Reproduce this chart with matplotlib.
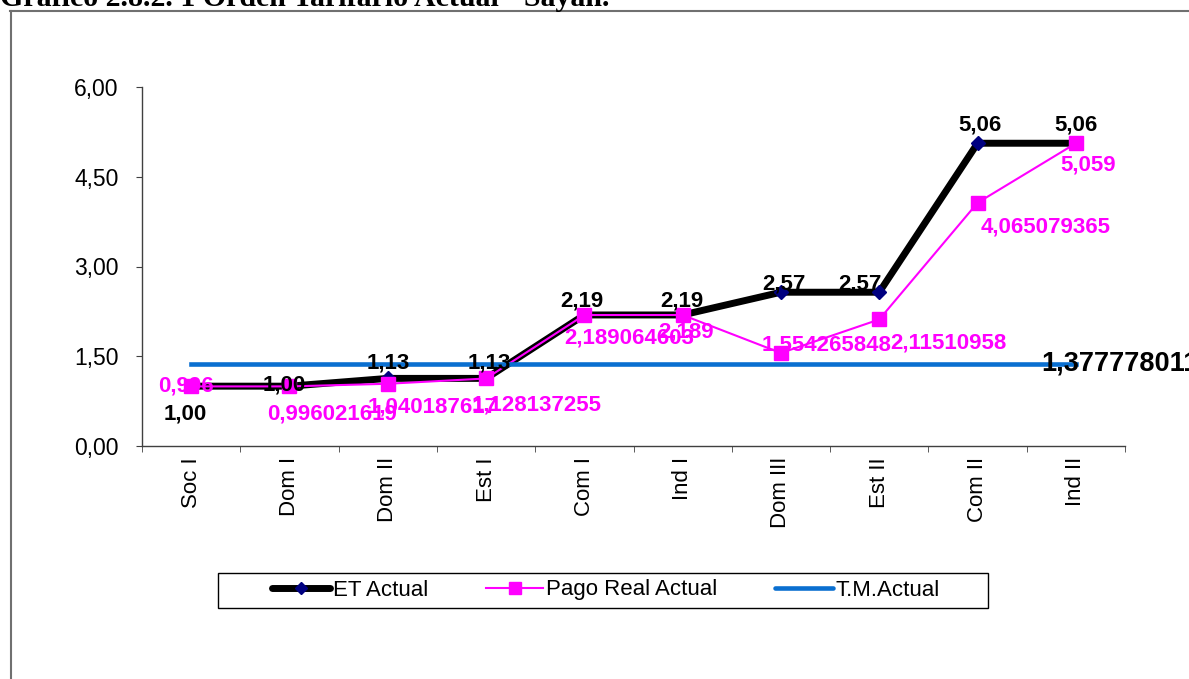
import matplotlib
matplotlib.use('Agg')
import matplotlib.pyplot as plt
from matplotlib.lines import Line2D
from matplotlib.patches import Rectangle
import numpy as np

plt.rcParams['font.family'] = ['Liberation Sans', 'DejaVu Sans']

# Datos del grafico
categorias = ["Soc I", "Dom I", "Dom II", "Est I", "Com I", "Ind I", "Dom III", "Est II", "Com II", "Ind II"]
et_actual = [1.00, 1.00, 1.13, 1.13, 2.19, 2.19, 2.57, 2.57, 5.06, 5.06]
pago_real = [0.996, 0.996021619, 1.040187617, 1.128137255, 2.189064603, 2.189,
             1.554265848, 2.11510958, 4.065079365, 5.059]
tm_actual = 1.377778011
yticks = [0, 1.5, 3, 4.5, 6]

# desplazamientos de las etiquetas (pixeles: dx, dy hacia abajo, alineacion)
off_et = [(-6, 28), (-5, -1), (0, -15), (3, -15), (-2, -14), (-1, -14),
          (3, -8), (-19, -8), (2, -18), (0, -18)]
off_pago = [(-5, 0, "center"), (-22, 28, "left"), (-20, 23, "left"), (-14, 27, "left"),
            (-20, 23, "left"), (3, 17, "center"), (-19, -8, "left"), (11, 24, "left"),
            (3, 24, "left"), (12, 22, "center")]

W, H = 1189, 679
fig = plt.figure(figsize=(W / 100, H / 100), dpi=100)
ax = fig.add_axes([142 / W, 1 - 446 / H, 983 / W, 359 / H])

x = np.arange(len(categorias))
azul = "#0A6FD0"
magenta = "#FF00FF"

ax.plot(x, et_actual, color="black", lw=5, marker="D", markersize=7.5,
        markerfacecolor="#000080", markeredgecolor="#000080", zorder=3)
ax.plot(x, pago_real, color=magenta, lw=1.5, marker="s", markersize=10,
        markerfacecolor=magenta, markeredgecolor=magenta, zorder=4)
ax.plot(x, [tm_actual] * len(x), color=azul, lw=3.3, zorder=5)

# etiquetas de datos
for xi, v, (dx, dy) in zip(x, et_actual, off_et):
    ax.annotate(f"{v:.2f}".replace(".", ","), (xi, v), xytext=(dx, -dy),
                textcoords="offset pixels", ha="center", va="center",
                fontsize=16, fontweight="bold", color="black", zorder=10)
for xi, v, (dx, dy, ha) in zip(x, pago_real, off_pago):
    ax.annotate(str(v).replace(".", ","), (xi, v), xytext=(dx, -dy),
                textcoords="offset pixels", ha=ha, va="center",
                fontsize=16, fontweight="bold", color=magenta, zorder=10)
ax.annotate(str(tm_actual).replace(".", ","), (x[-1], tm_actual), xytext=(-35, 0),
            textcoords="offset pixels", ha="left", va="center",
            fontsize=19.5, fontweight="bold", color="black", zorder=10,
            annotation_clip=False)

# ejes
ax.set_xlim(-0.5, len(x) - 0.5)
ax.set_ylim(0, 6)
ax.set_yticks(yticks)
ax.set_yticklabels([f"{t:.2f}".replace(".", ",") for t in yticks], fontsize=16.5)
ax.set_xticks(x)
ax.set_xticklabels(categorias, rotation=90, fontsize=16)
ax.set_xticks(np.arange(-0.5, len(x)), minor=True)
ax.tick_params(axis="x", which="major", length=0, pad=8)
ax.tick_params(axis="x", which="minor", length=4, direction="out", color="#404040")
ax.tick_params(axis="y", length=4, direction="out", pad=13, color="#404040")
for s in ["top", "right"]:
    ax.spines[s].set_visible(False)
for s in ["left", "bottom"]:
    ax.spines[s].set_color("#404040")
    ax.spines[s].set_linewidth(1)

# leyenda
handles = [
    Line2D([], [], color="black", lw=5, marker="D", markersize=6,
           markerfacecolor="#000080", markeredgecolor="#000080", solid_capstyle="round"),
    Line2D([], [], color=magenta, lw=1.5, marker="s", markersize=9,
           markerfacecolor=magenta, markeredgecolor=magenta),
    Line2D([], [], color=azul, lw=3.3, solid_capstyle="round"),
]
fig.legend(handles, ["ET Actual", "Pago Real Actual", "T.M.Actual"],
           loc="center", bbox_to_anchor=(606 / W, 1 - 590 / H), ncol=3,
           frameon=False, fontsize=16, handlelength=2.6, handletextpad=0.12,
           columnspacing=2.6)
fig.add_artist(Rectangle((218 / W, 1 - 608 / H), 770 / W, 35 / H,
                         transform=fig.transFigure, fill=False,
                         edgecolor="black", lw=1))

# marco exterior
fig.add_artist(Line2D([10.5 / W, 10.5 / W], [0, 1 - 11 / H], transform=fig.transFigure,
                      color="#707070", lw=1.5))
fig.add_artist(Line2D([10 / W, 1], [1 - 11 / H, 1 - 11 / H], transform=fig.transFigure,
                      color="#707070", lw=1.5))

# titulo (cortado arriba)
fig.text(0, 1 - 6 / H, "Gráfico 2.8.2. 1 Orden Tarifario Actual - Sayan.",
         family=["Liberation Serif", "DejaVu Serif"], fontsize=21.5, fontweight="bold",
         ha="left", va="baseline")

plt.savefig("out.png", dpi=100)
